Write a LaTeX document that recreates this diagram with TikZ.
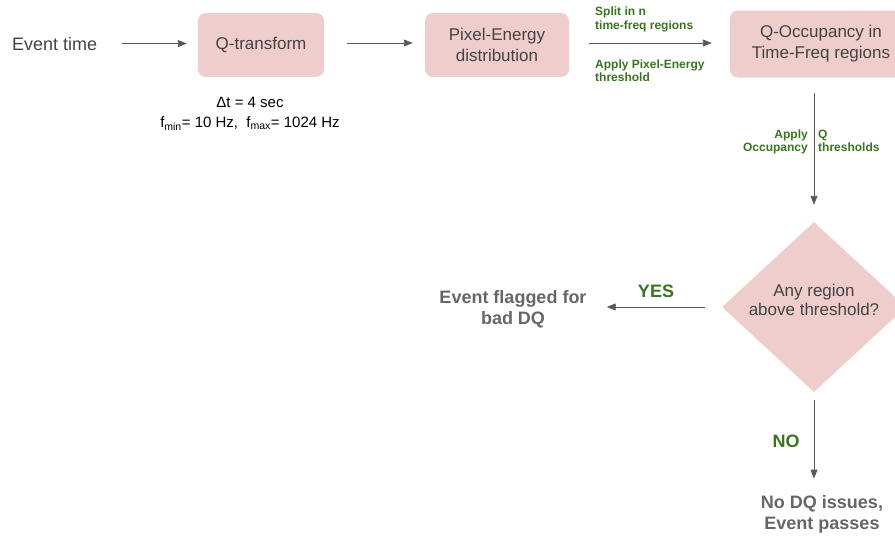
\documentclass[tikz,border=0pt]{standalone}
\usepackage{fontspec}
\setmainfont{Liberation Sans}
\usetikzlibrary{shapes.geometric,arrows.meta}
\definecolor{boxfill}{HTML}{EFCDCC}
\definecolor{boxtext}{HTML}{434343}
\definecolor{restext}{HTML}{666666}
\definecolor{lblgreen}{HTML}{38761D}
\definecolor{arrowcol}{HTML}{595959}
\begin{document}
\begin{tikzpicture}[x=1pt,y=-1pt,
  procbox/.style={rounded corners=8pt, fill=boxfill, text=boxtext, font=\fontsize{17}{21}\selectfont, align=center, inner sep=0pt},
  flow/.style={draw=arrowcol, line width=0.9pt, -{Triangle[length=9pt,width=7pt]}},
  greenlbl/.style={text=lblgreen, font=\bfseries\fontsize{12}{13.5}\selectfont, inner sep=0pt},
  bigres/.style={align=center, text=restext, font=\bfseries\fontsize{18}{20.5}\selectfont, inner sep=0pt},
  yesno/.style={anchor=base, text=lblgreen, font=\bfseries\fontsize{18}{20}\selectfont, inner sep=0pt}]
\useasboundingbox (0,0) rectangle (895,536);

% process boxes
\node[procbox, minimum width=126pt, minimum height=64pt] (qt) at (261,45) {Q-transform};
\node[procbox, minimum width=144pt, minimum height=64pt] (pe) at (497,45) {Pixel-Energy\\distribution};
\node[procbox, minimum width=182pt, minimum height=67pt] (qo) at (821,44) {Q-Occupancy in\\Time-Freq regions};

% start text
\node[anchor=base west, inner sep=0pt, text=boxtext, font=\fontsize{18}{22}\selectfont] (evt) at (12,50) {Event time};

% parameters
\node[inner sep=0pt, align=center, font=\fontsize{15}{20}\selectfont] (params) at (250,114) {Δt = 4 sec\\f\textsubscript{min}= 10 Hz,\ \ f\textsubscript{max}= 1024 Hz};

% decision
\node[diamond, fill=boxfill, minimum width=184pt, minimum height=170pt, inner sep=0pt] (dia) at (814,307) {};
\node[align=center, text=boxtext, font=\fontsize{17}{19}\selectfont, inner sep=0pt] (diatxt) at (814,299.5) {Any region\\above threshold?};

% results
\node[bigres] (flag) at (513,309) {Event flagged for\\bad DQ};
\node[bigres] (pass) at (822,514.4) {No DQ issues,\\Event passes};

% green labels
\node[greenlbl, anchor=west, align=left] (lsplit) at (595,19.5) {Split in n\\time-freq regions};
\node[greenlbl, anchor=west, align=left] (lapply) at (595,70.5) {Apply Pixel-Energy\\threshold};
\node[greenlbl, anchor=east, align=right] (locc) at (808,142) {Apply\\Occupancy};
\node[greenlbl, anchor=west, align=left] (lq) at (818,140.7) {Q\\thresholds};
\node[yesno] (yes) at (656,297) {YES};
\node[yesno] (no) at (786,447) {NO};

% connectors
\draw[flow, shorten <=25pt, shorten >=11pt] (evt.east) -- (evt.east -| qt.west);
\draw[flow, shorten <=23pt, shorten >=12pt] ([yshift=2pt]qt.east) -- ([yshift=2pt]pe.west);
\draw[flow, shorten <=20pt, shorten >=18pt] ([yshift=2pt]pe.east) -- ([yshift=2pt]pe.east -| qo.west);
\draw[flow, shorten <=15pt, shorten >=17pt] (dia.north |- qo.south) -- (dia.north);
\draw[flow, shorten <=17pt, shorten >=20pt] (dia.west) -- (dia.west -| flag.east);
\draw[flow, shorten <=8pt, shorten >=17pt] (dia.south) -- (dia.south |- pass.north);
\end{tikzpicture}
\end{document}
